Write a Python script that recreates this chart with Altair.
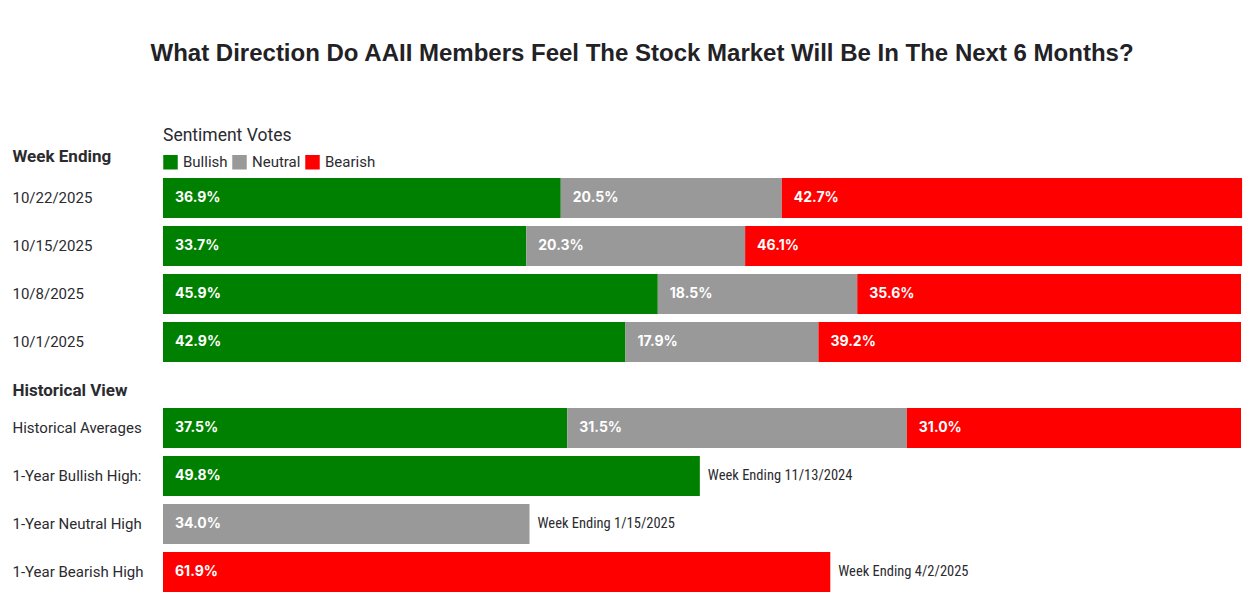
import altair as alt
import pandas as pd

# ---- data ----
weeks = ["10/22/2025", "10/15/2025", "10/8/2025", "10/1/2025"]
bullish = [36.9, 33.7, 45.9, 42.9]
neutral = [20.5, 20.3, 18.5, 17.9]
bearish = [42.7, 46.1, 35.6, 39.2]

hist_avg_label = "Historical Averages"
hist_avg = [37.5, 31.5, 31.0]  # bullish, neutral, bearish

high_rows = ["1-Year Bullish High:", "1-Year Neutral High", "1-Year Bearish High"]
high_sent = ["Bullish", "Neutral", "Bearish"]
high_vals = [49.8, 34.0, 61.9]
high_notes = ["Week Ending 11/13/2024", "Week Ending 1/15/2025", "Week Ending 4/2/2025"]

sentiments = ["Bullish", "Neutral", "Bearish"]
colors = ["#008000", "#999999", "#ff0000"]

# ---- tables ----
top_rows = []
for i, w in enumerate(weeks):
    for k, (s, v) in enumerate(zip(sentiments, [bullish[i], neutral[i], bearish[i]])):
        top_rows.append({"row": w, "sent": s, "value": v, "ord": k})
top_df = pd.DataFrame(top_rows)

bot_rows = []
for k, (s, v) in enumerate(zip(sentiments, hist_avg)):
    bot_rows.append({"row": hist_avg_label, "sent": s, "value": v, "ord": k, "note": ""})
for r, s, v, n in zip(high_rows, high_sent, high_vals, high_notes):
    bot_rows.append({"row": r, "sent": s, "value": v, "ord": 0, "note": n})
bot_df = pd.DataFrame(bot_rows)

LABEL_FONT = "Roboto"
TEXT_COLOR = "#2b2b30"

color_scale = alt.Scale(domain=sentiments, range=colors)
x_scale = alt.Scale(domain=[0, 100], nice=False, zero=True)


def panel(df, order, title, title_y, with_notes, show_legend):
    base = alt.Chart(df).transform_stack(
        stack="value", groupby=["row"], as_=["x0", "x1"],
        sort=[alt.SortField("ord", order="ascending")],
    )
    y = alt.Y(
        "row:N", sort=order,
        scale=alt.Scale(paddingInner=8 / 48, paddingOuter=0),
        axis=alt.Axis(
            title=title, titleAngle=0, titleAlign="left", titleBaseline="middle",
            titleX=-151, titleY=title_y, titleFont=LABEL_FONT, titleFontSize=17,
            titleFontWeight="bold", titleColor=TEXT_COLOR,
            labelAlign="left", labelPadding=151, labelFont=LABEL_FONT,
            labelFontSize=15, labelColor=TEXT_COLOR, ticks=False, domain=False,
            labelLimit=200,
        ),
    )
    bars = base.mark_bar(cornerRadius=0).encode(
        y=y,
        x=alt.X("x0:Q", scale=x_scale, axis=None),
        x2="x1:Q",
        color=alt.Color(
            "sent:N", scale=color_scale,
            legend=alt.Legend(
                title="Sentiment Votes", orient="top", direction="horizontal",
                symbolType="square", symbolSize=210, symbolStrokeWidth=0,
                titleFont=LABEL_FONT, titleFontSize=17.5, titleFontWeight="normal",
                titleColor=TEXT_COLOR, labelFont=LABEL_FONT, labelFontSize=15,
                labelColor=TEXT_COLOR, titlePadding=10, columnPadding=4,
                labelOffset=5, offset=-24,
            ) if show_legend else None,
        ),
    )
    labels = base.mark_text(
        align="left", baseline="middle", dx=12, color="white",
        font="Inter", fontWeight="bold", fontSize=14,
    ).transform_calculate(lab="format(datum.value, '.1f') + '%'").encode(
        y=alt.Y("row:N", sort=order),
        x=alt.X("x0:Q", scale=x_scale),
        text="lab:N",
    )
    layers = [bars, labels]
    if with_notes:
        notes = base.transform_filter("datum.note != ''").mark_text(
            align="left", baseline="middle", dx=8, color=TEXT_COLOR,
            font="Liberation Sans Narrow, Roboto Condensed, Roboto", fontSize=14.5,
        ).encode(
            y=alt.Y("row:N", sort=order),
            x=alt.X("x1:Q", scale=x_scale),
            text="note:N",
        )
        layers.append(notes)
    return alt.layer(*layers).properties(width=1078, height=184)


top = panel(top_df, weeks, "Week Ending", -22, False, True)
bottom = panel(bot_df, [hist_avg_label] + high_rows, "Historical View", -18, True, True)

chart = alt.vconcat(top, bottom, spacing=46, bounds="flush").resolve_scale(
    color="shared"
).properties(
    title=alt.TitleParams(
        "What Direction Do AAII Members Feel The Stock Market Will Be In The Next 6 Months?",
        font="Liberation Sans", fontSize=24, fontWeight="bold", color="#222226",
        anchor="middle", offset=61, dx=15,
    ),
    padding={"left": 4, "top": 34, "right": 5, "bottom": 0},
    background="white",
).configure_view(stroke=None)

chart.save("out.html", embed_options={"renderer": "svg", "actions": False})
